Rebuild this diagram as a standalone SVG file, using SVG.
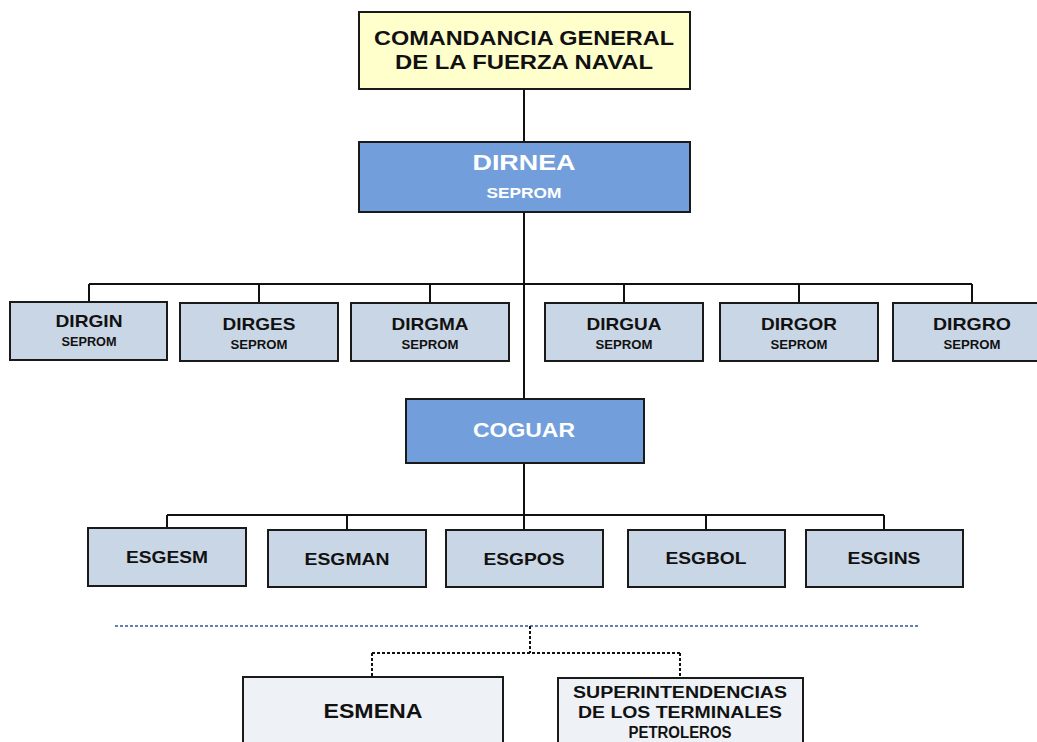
<svg xmlns="http://www.w3.org/2000/svg" width="1037" height="742" viewBox="0 0 1037 742">
<style>
.box{stroke:#1a1a1a;stroke-width:2}
.y{fill:#ffffcc}
.b{fill:#729fdb}
.g{fill:#c9d6e5}
.w{fill:#eef1f6}
text{font-family:"Liberation Sans",Arial,sans-serif;font-weight:bold;text-anchor:middle}
.dk{fill:#111}
.wt{fill:#ffffff}
.ln{stroke:#111;stroke-width:2;fill:none}
.dl{stroke:#111;stroke-width:2;fill:none;stroke-dasharray:3 2}
.bl{stroke:#2f5597;stroke-width:1.5;fill:none;stroke-dasharray:3 2}
</style>
<rect width="1037" height="742" fill="#ffffff"/>
<g id="connectors">
<path class="ln" d="M524 89V141M524 212V399M89 284H972M89 284V302M259 284V303M430 284V303M624 284V303M799 284V303M972 284V303"/>
<path class="ln" d="M524 463V529M167 515H884M167 515V528M347 515V529M706 515V529M884 515V529"/>
<path class="bl" d="M115 626H918"/>
<path class="dl" d="M530 626V653M372 653H680M372 653V677M680 653V678"/>
</g>
<g id="n_comandancia">
<rect class="box y" x="359" y="12" width="331" height="77"/>
<text class="dk" x="524" y="45" font-size="20" textLength="300" lengthAdjust="spacingAndGlyphs">COMANDANCIA GENERAL</text>
<text class="dk" x="524" y="69" font-size="20" textLength="258" lengthAdjust="spacingAndGlyphs">DE LA FUERZA NAVAL</text>
</g>
<g id="n_dirnea">
<rect class="box b" x="359" y="142" width="331" height="70"/>
<text class="wt" x="524" y="170" font-size="22" textLength="103" lengthAdjust="spacingAndGlyphs">DIRNEA</text>
<text class="wt" x="524" y="198" font-size="15" textLength="75" lengthAdjust="spacingAndGlyphs">SEPROM</text>
</g>
<g id="n_dirgin">
<rect class="box g" x="10" y="302" width="157" height="58"/>
<text class="dk" x="89" y="327" font-size="17" textLength="67" lengthAdjust="spacingAndGlyphs">DIRGIN</text>
<text class="dk" x="89" y="346" font-size="12" textLength="55" lengthAdjust="spacingAndGlyphs">SEPROM</text>
</g>
<g id="n_dirges">
<rect class="box g" x="180" y="303" width="158" height="58"/>
<text class="dk" x="259" y="330" font-size="17" textLength="73" lengthAdjust="spacingAndGlyphs">DIRGES</text>
<text class="dk" x="259" y="349" font-size="12" textLength="57" lengthAdjust="spacingAndGlyphs">SEPROM</text>
</g>
<g id="n_dirgma">
<rect class="box g" x="351" y="303" width="158" height="58"/>
<text class="dk" x="430" y="330" font-size="17" textLength="77" lengthAdjust="spacingAndGlyphs">DIRGMA</text>
<text class="dk" x="430" y="349" font-size="12" textLength="57" lengthAdjust="spacingAndGlyphs">SEPROM</text>
</g>
<g id="n_dirgua">
<rect class="box g" x="545" y="303" width="158" height="58"/>
<text class="dk" x="624" y="330" font-size="17" textLength="75" lengthAdjust="spacingAndGlyphs">DIRGUA</text>
<text class="dk" x="624" y="349" font-size="12" textLength="57" lengthAdjust="spacingAndGlyphs">SEPROM</text>
</g>
<g id="n_dirgor">
<rect class="box g" x="720" y="303" width="158" height="58"/>
<text class="dk" x="799" y="330" font-size="17" textLength="76" lengthAdjust="spacingAndGlyphs">DIRGOR</text>
<text class="dk" x="799" y="349" font-size="12" textLength="57" lengthAdjust="spacingAndGlyphs">SEPROM</text>
</g>
<g id="n_dirgro">
<rect class="box g" x="893" y="303" width="158" height="58"/>
<text class="dk" x="972" y="330" font-size="17" textLength="78" lengthAdjust="spacingAndGlyphs">DIRGRO</text>
<text class="dk" x="972" y="349" font-size="12" textLength="57" lengthAdjust="spacingAndGlyphs">SEPROM</text>
</g>
<g id="n_coguar">
<rect class="box b" x="406" y="399" width="238" height="64"/>
<text class="wt" x="524" y="437" font-size="20" textLength="102" lengthAdjust="spacingAndGlyphs">COGUAR</text>
</g>
<g id="n_esgesm">
<rect class="box g" x="88" y="528" width="158" height="58"/>
<text class="dk" x="167" y="563" font-size="17" textLength="82" lengthAdjust="spacingAndGlyphs">ESGESM</text>
</g>
<g id="n_esgman">
<rect class="box g" x="268" y="530" width="158" height="57"/>
<text class="dk" x="347" y="565" font-size="17" textLength="85" lengthAdjust="spacingAndGlyphs">ESGMAN</text>
</g>
<g id="n_esgpos">
<rect class="box g" x="446" y="530" width="157" height="57"/>
<text class="dk" x="524" y="565" font-size="17" textLength="81" lengthAdjust="spacingAndGlyphs">ESGPOS</text>
</g>
<g id="n_esgbol">
<rect class="box g" x="628" y="530" width="157" height="57"/>
<text class="dk" x="706" y="564" font-size="17" textLength="81" lengthAdjust="spacingAndGlyphs">ESGBOL</text>
</g>
<g id="n_esgins">
<rect class="box g" x="806" y="530" width="157" height="57"/>
<text class="dk" x="884" y="564" font-size="17" textLength="73" lengthAdjust="spacingAndGlyphs">ESGINS</text>
</g>
<g id="n_esmena">
<rect class="box w" x="243" y="677" width="260" height="80"/>
<text class="dk" x="373" y="718" font-size="20" textLength="99" lengthAdjust="spacingAndGlyphs">ESMENA</text>
</g>
<g id="n_superintendencias">
<rect class="box w" x="558" y="678" width="245" height="80"/>
<text class="dk" x="680" y="698" font-size="16" textLength="214" lengthAdjust="spacingAndGlyphs">SUPERINTENDENCIAS</text>
<text class="dk" x="680" y="718" font-size="16" textLength="204" lengthAdjust="spacingAndGlyphs">DE LOS TERMINALES</text>
<text class="dk" x="680" y="738" font-size="16" textLength="103" lengthAdjust="spacingAndGlyphs">PETROLEROS</text>
</g>
</svg>
